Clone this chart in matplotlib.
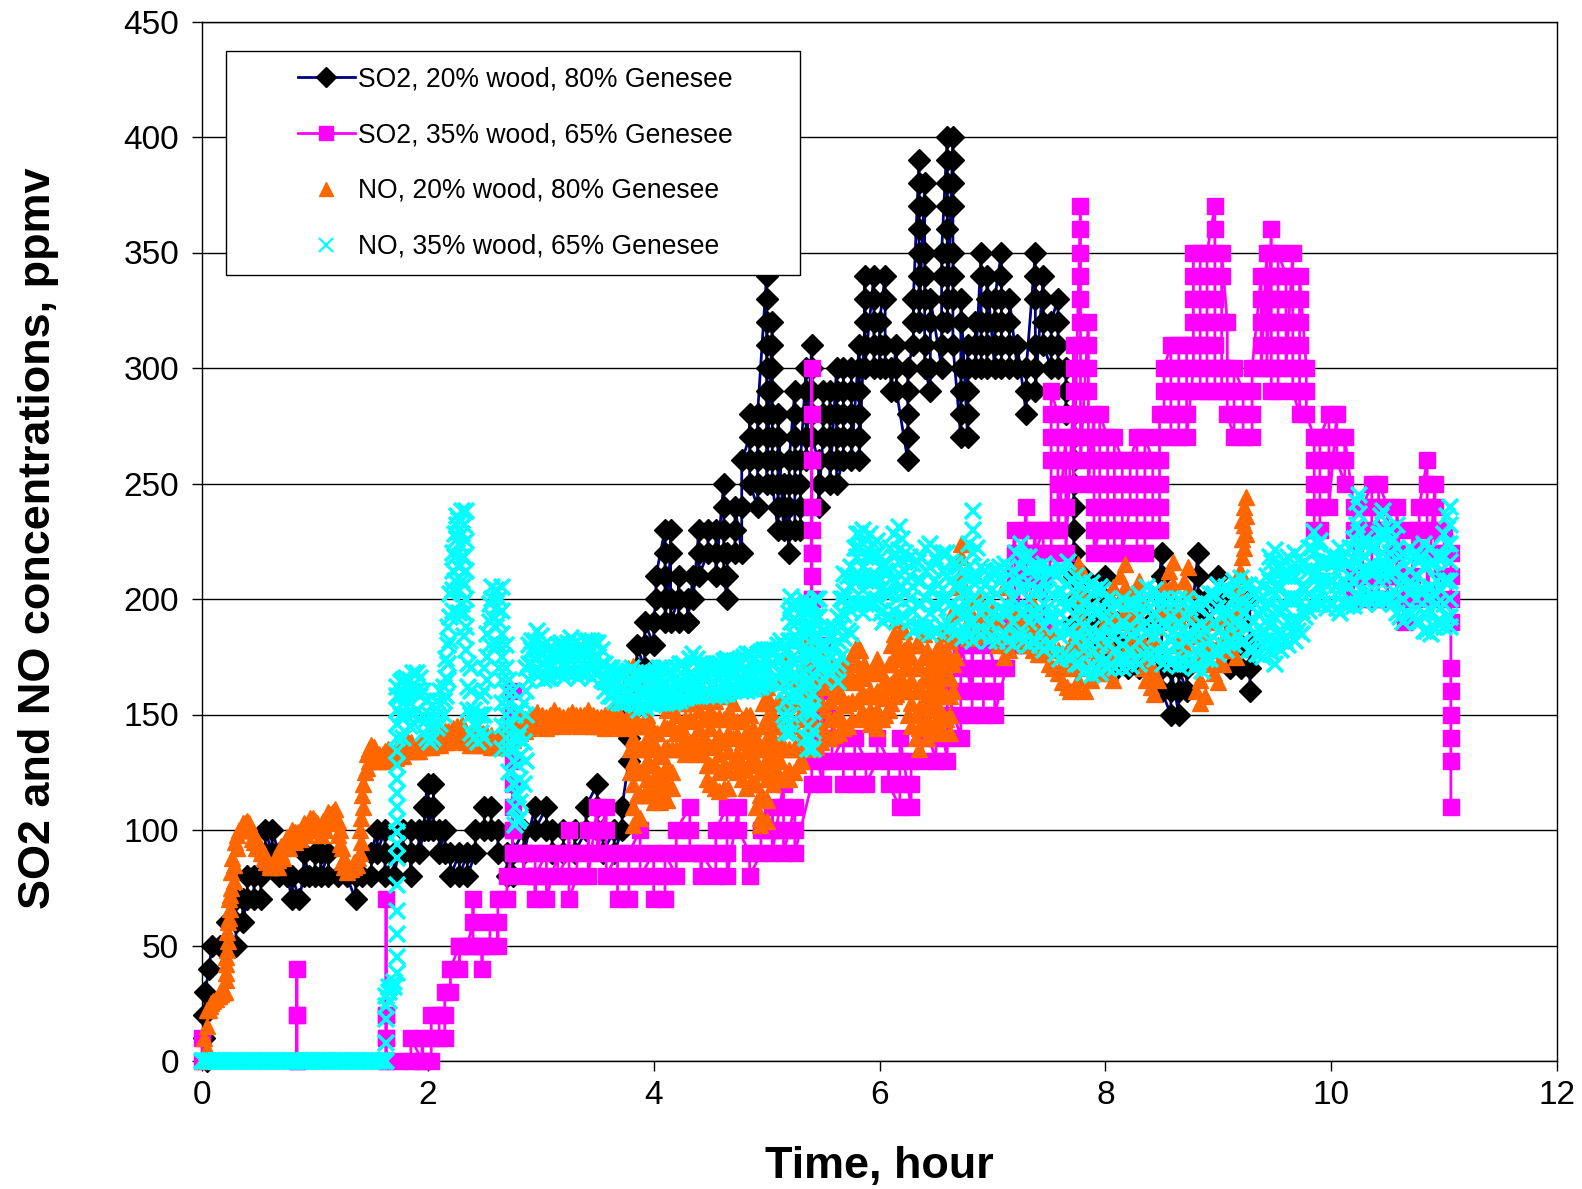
import matplotlib
matplotlib.use('Agg')
import matplotlib.pyplot as plt
from matplotlib.lines import Line2D
from matplotlib.patches import Rectangle

plt.rcParams['font.family'] = ['Liberation Sans', 'DejaVu Sans']

# each row: time in hours, readings logged around that time
so2_20 = [
    (0.04, [0]), (0.02, [10, 20]), (0.03, [30]), (0.06, [40]), (0.09, [50]), (0.16, [50]), (0.22, [50, 60]),
    (0.3, [50, 60, 70]), (0.36, [70, 60]), (0.4, [70, 80]), (0.46, [80, 70]), (0.52, [70, 80]), (0.56, [90, 100]),
    (0.62, [90, 100]), (0.68, [90, 80]), (0.75, [80]), (0.8, [70, 80]), (0.86, [70]), (0.9, [80, 90]), (0.95, [80]),
    (1.0, [80, 90]), (1.05, [90, 80]), (1.12, [90, 80]), (1.2, [80]), (1.28, [80]), (1.36, [70, 80]), (1.42, [80]),
    (1.5, [80, 90]), (1.55, [100, 90]), (1.62, [100, 90, 80]), (1.7, [90, 80]), (1.78, [100, 90]),
    (1.85, [90, 80, 100]), (1.92, [100, 90]), (1.97, [100, 110]), (2.0, [120, 110, 100]), (2.05, [110, 120, 100]),
    (2.1, [100, 90]), (2.15, [100, 90]), (2.2, [90, 80]), (2.28, [90, 80]), (2.35, [90, 80]), (2.42, [90, 100]),
    (2.5, [100, 110]), (2.56, [110, 100]), (2.62, [100, 90]), (2.7, [90, 80]), (2.75, [80, 90]), (2.85, [100, 90]),
    (2.95, [110, 100]), (3.05, [110, 100]), (3.1, [100, 90]), (3.2, [90, 100]), (3.3, [100, 90]), (3.4, [100, 110]),
    (3.5, [120, 110, 100]), (3.55, [100, 90]), (3.65, [100, 90]), (3.72, [100, 110]), (3.78, [130, 140, 150]),
    (3.85, [160, 170, 180]), (3.92, [170, 180, 190]), (4.0, [180, 190]), (4.02, [200, 210]),
    (4.1, [230, 220, 210, 200, 190]), (4.15, [220, 230, 200, 190]), (4.22, [200, 210, 190]), (4.3, [190, 200, 190]),
    (4.35, [210, 200]), (4.4, [230, 220, 210]), (4.48, [220, 230]), (4.55, [230, 220, 210]),
    (4.62, [250, 240, 230, 220, 210]), (4.65, [200, 210, 220]), (4.72, [220, 230, 240]), (4.78, [220, 240, 260]),
    (4.85, [270, 280, 260, 250]), (4.92, [240, 250, 260, 270, 280]),
    (5.0, [340, 330, 320, 310, 300, 290, 280, 270, 260, 250]), (5.05, [320, 310, 300, 290, 280, 270, 260, 250]),
    (5.1, [230, 240, 250, 260, 270, 280]), (5.15, [230, 240, 250]), (5.2, [220, 230, 240, 250, 260]),
    (5.25, [290, 280, 270, 260, 250, 230]), (5.3, [230, 240, 250, 260]), (5.35, [300, 290, 280, 270, 260]),
    (5.4, [310, 300, 290, 280, 270]), (5.46, [260, 250, 240]), (5.5, [270, 280, 290]),
    (5.56, [290, 280, 270, 260, 250]), (5.62, [300, 290, 280, 270, 260, 250]), (5.68, [260, 270, 280, 290, 300]),
    (5.75, [300, 290, 280, 270, 260]), (5.82, [310, 300, 290, 280, 270, 260]), (5.87, [320, 330, 340, 310, 300]),
    (5.95, [340, 330, 320, 310, 300]), (6.0, [300, 310, 320]), (6.05, [340, 330, 310, 300]), (6.1, [300, 290]),
    (6.15, [310, 300, 290]), (6.25, [260, 270, 280, 290, 300]), (6.3, [310, 320, 330]),
    (6.35, [390, 380, 370, 360, 350, 340, 330, 320]), (6.4, [380, 370, 350, 340, 330, 310, 300]),
    (6.45, [290, 300, 320, 330]), (6.55, [300, 310, 320, 340, 350]),
    (6.6, [400, 390, 380, 370, 360, 350, 340, 330, 320]), (6.65, [400, 390, 380, 370, 350, 340, 330, 310]),
    (6.72, [270, 280, 290, 300, 320, 330]), (6.78, [270, 280, 290, 300, 310]), (6.85, [310, 320, 300]),
    (6.9, [350, 340, 320, 310, 300]), (6.95, [300, 310, 320, 330, 340]), (7.02, [300, 310, 320, 330]),
    (7.08, [350, 340, 330, 320, 310, 300]), (7.15, [300, 310, 320, 330]), (7.22, [300, 310]), (7.3, [280, 290, 300]),
    (7.38, [350, 340, 330, 310, 300, 290]), (7.45, [340, 330, 320, 310]), (7.52, [300, 310, 320]),
    (7.58, [330, 320, 310, 300]), (7.65, [300, 290, 280]),
    (7.72, [280, 270, 260, 250, 240, 230, 220, 210, 200, 190]), (7.8, [210, 200, 190, 180]), (7.9, [190, 180]),
    (8.0, [200, 210, 180, 170]), (8.1, [170, 180, 190]), (8.2, [170, 180]), (8.3, [170, 180]),
    (8.4, [180, 190, 170]), (8.5, [220, 210, 170, 160]), (8.58, [150, 160, 170]), (8.65, [150, 160, 170]),
    (8.72, [160, 170]), (8.82, [220, 210, 200, 190]), (8.9, [200, 190]), (9.0, [200, 210]), (9.1, [190, 180, 170]),
    (9.2, [170, 180, 190]), (9.28, [200, 180, 170, 160]),
]

so2_35 = [
    (0.0, [10, 0]), (0.84, [0, 20, 40, 20, 0]), (1.63, [0, 10, 20, 70, 20, 10, 0]), (1.75, [0]), (1.85, [0, 10]),
    (1.95, [0, 10, 0]), (2.03, [0, 10, 20]), (2.1, [20, 10]), (2.15, [10, 20, 30]), (2.2, [30, 40]),
    (2.28, [50, 40, 50]), (2.35, [50]), (2.4, [60, 70, 50]), (2.48, [50, 40, 50]), (2.55, [50, 60]),
    (2.62, [60, 50, 70]), (2.7, [70, 80]), (2.75, [90, 100, 160, 150, 140, 130, 120, 110, 100, 90]),
    (2.85, [90, 80, 90]), (2.95, [90, 80, 70, 80]), (3.05, [90, 80, 70]), (3.15, [90, 80]), (3.25, [90, 100, 80, 70]),
    (3.32, [80, 90]), (3.42, [90, 100, 80]), (3.5, [110, 100, 90]), (3.58, [110, 100, 90, 80]), (3.68, [90, 80, 70]),
    (3.78, [70, 80, 90]), (3.88, [100, 90, 80]), (4.0, [90, 80, 70]), (4.1, [70, 80, 90]), (4.2, [80, 90, 100]),
    (4.32, [110, 100, 90]), (4.42, [90, 80, 90]), (4.55, [80, 90, 100]), (4.65, [110, 100, 90, 80]),
    (4.75, [110, 100]), (4.85, [90, 80]), (4.95, [90, 100]), (5.05, [100, 110, 100, 90]),
    (5.15, [120, 110, 100, 90]), (5.25, [110, 100, 90]),
    (5.4, [120, 130, 150, 170, 200, 210, 220, 230, 240, 260, 280, 300, 260, 240, 220, 200, 180, 160, 140]),
    (5.5, [120, 130, 140, 160, 180]), (5.58, [150, 140, 130]), (5.68, [140, 130, 120]), (5.78, [120, 130, 140]),
    (5.88, [130, 120]), (5.98, [130, 140]), (6.08, [130, 120]), (6.18, [110, 120, 130, 140]),
    (6.28, [110, 120, 130]), (6.38, [130, 140, 150]), (6.5, [130, 140, 160]), (6.6, [130, 140, 150, 160]),
    (6.72, [140, 150, 160, 170, 180]), (6.82, [160, 170, 180, 150]), (6.92, [150, 160, 170, 180, 190]),
    (7.02, [170, 160, 150]), (7.12, [170, 180, 190]), (7.2, [230, 220, 210, 190, 180]),
    (7.3, [240, 230, 220, 210, 190, 180]), (7.38, [230, 220]), (7.45, [230, 220, 210, 190]),
    (7.52, [220, 230, 260, 270, 280, 290]), (7.58, [280, 270, 260, 250, 240, 230]), (7.65, [270, 260, 250, 240, 220]),
    (7.72, [290, 300, 310, 280, 270, 260, 250]),
    (7.78, [370, 360, 350, 340, 330, 320, 310, 300, 290, 280, 270, 260]), (7.85, [320, 310, 300, 290, 270, 250]),
    (7.9, [280, 270, 260, 250, 240, 230, 220]), (7.95, [230, 240, 250, 260, 270, 280]),
    (8.02, [270, 260, 250, 240, 230, 220]), (8.08, [220, 230, 240, 250, 260, 270]),
    (8.15, [260, 250, 240, 230, 220]), (8.22, [240, 250, 260]), (8.28, [270, 260, 250, 240, 230, 220]),
    (8.35, [220, 230, 240, 250, 260, 270]), (8.42, [260, 250, 240, 230]), (8.48, [230, 240, 250, 260, 270, 280]),
    (8.52, [280, 290, 300]), (8.58, [310, 300, 290, 280, 270]), (8.65, [270, 280, 290, 300, 310]),
    (8.72, [310, 300, 290, 280, 270]), (8.78, [300, 310, 320, 330, 340, 350]),
    (8.84, [350, 340, 330, 320, 310, 300, 290]), (8.9, [290, 300, 310, 320, 330, 340, 350]),
    (8.97, [370, 360, 350, 340, 330, 320, 310, 300, 290]), (9.03, [290, 300, 320, 340, 350]),
    (9.08, [320, 300, 290, 280]), (9.14, [270, 280, 290, 300]), (9.22, [290, 280, 270]), (9.3, [270, 280, 290, 300]),
    (9.38, [340, 330, 320, 310, 300]), (9.43, [350, 340, 320, 300]),
    (9.47, [360, 350, 340, 330, 320, 310, 300, 290]), (9.53, [290, 300, 310, 320, 330, 340, 350]),
    (9.6, [340, 330, 320, 310, 300]), (9.66, [350, 340, 330, 320, 310, 300, 290]),
    (9.72, [280, 290, 300, 310, 320, 330, 340]), (9.78, [300, 290, 280]), (9.85, [270, 260, 250, 240, 230]),
    (9.9, [230, 240, 250, 260, 270]), (9.98, [280, 270, 260, 240]), (10.05, [280, 270, 260]),
    (10.12, [250, 260, 270]), (10.2, [240, 230, 210, 200]), (10.28, [200, 210, 230, 240]),
    (10.36, [250, 240, 230, 210, 200]), (10.42, [200, 210, 230, 240, 250]), (10.5, [240, 230, 210, 200]),
    (10.58, [200, 210, 220, 230, 240]), (10.65, [190, 200, 210]), (10.72, [200, 210, 230]), (10.78, [220, 230, 240]),
    (10.85, [260, 250, 240, 230, 200]), (10.92, [250, 240, 230, 220, 200]), (11.0, [210, 220, 230]),
    (11.06, [220, 210, 200, 190, 170, 160, 150, 140, 130, 110]),
]

no_20 = [
    (0.0, [0]), (0.02, [10]), (0.04, [15, 5, 22]), (0.07, [24]), (0.1, [26]), (0.15, [28]), (0.2, [30, 30]),
    (0.21, [38, 45]), (0.23, [52, 60]), (0.25, [66, 72]), (0.28, [78, 85]), (0.31, [92, 98]), (0.35, [101]),
    (0.38, [102, 103]), (0.42, [103, 100]), (0.46, [97, 95]), (0.5, [95, 92]), (0.55, [90, 88]), (0.6, [85, 84]),
    (0.65, [86, 88]), (0.7, [90, 93]), (0.75, [95, 97]), (0.8, [99, 100]), (0.85, [98, 99]), (0.9, [101, 103]),
    (0.96, [104, 105]), (1.02, [103, 100]), (1.07, [102, 104]), (1.12, [106, 108]), (1.18, [109, 106]),
    (1.22, [100, 94]), (1.26, [88, 84]), (1.3, [83, 83]), (1.35, [84, 86]), (1.4, [90, 100]), (1.43, [110, 120]),
    (1.46, [127, 133]), (1.5, [137, 134]), (1.55, [131, 130]), (1.6, [131, 133]), (1.65, [132, 135]),
    (1.7, [133, 131]), (1.75, [134, 137]), (1.82, [135, 138]), (1.9, [136, 134]), (1.95, [136, 139]), (2.0, [141, 137]),
    (2.07, [137, 142]), (2.15, [138, 143]), (2.22, [139, 144]), (2.3, [146, 141]), (2.37, [137, 142]), (2.45, [138, 143]),
    (2.52, [137, 141]), (2.6, [136, 140]), (2.68, [138, 143]), (2.75, [139, 146]), (2.82, [142, 148]), (2.9, [144, 149]),
    (2.97, [146, 151]), (3.05, [144, 149]), (3.12, [146, 152]), (3.2, [145, 149]), (3.28, [147, 151]), (3.35, [145, 150]),
    (3.42, [146, 152]), (3.5, [145, 149]), (3.57, [144, 150]), (3.65, [146, 152]), (3.72, [144, 148]),
    (3.77, [150, 158, 165, 170]), (3.82, [171, 160, 150, 140, 130, 120, 110, 102]), (3.88, [105, 115, 125, 135, 145]),
    (3.94, [150, 140, 130, 122, 115]), (4.0, [112, 120, 128, 136, 142]), (4.06, [132, 124, 118, 112]),
    (4.12, [113, 120, 128, 136, 144, 152, 158]), (4.2, [158, 150, 142, 135]), (4.28, [133, 140, 148, 155, 160]),
    (4.36, [155, 147, 140, 133]), (4.44, [133, 140, 148, 156]), (4.5, [160, 152, 144, 136, 128, 120]),
    (4.58, [117, 125, 133, 141, 149, 158]), (4.66, [160, 150, 142, 134, 126, 118]), (4.74, [125, 133, 141, 147]),
    (4.82, [150, 142, 134, 126, 118]), (4.88, [120, 128, 136, 144]), (4.94, [135, 125, 115, 105, 102]),
    (5.0, [104, 113, 122, 131, 140, 149, 158, 162]), (5.06, [150, 140, 130, 120]), (5.12, [122, 130, 138, 146, 155, 165]),
    (5.2, [175, 165, 155, 145, 135, 126, 122]), (5.28, [128, 138, 148, 158, 168]), (5.35, [180, 170, 160, 150, 140, 135]),
    (5.4, [135, 145, 155, 165, 175, 185]), (5.48, [175, 165, 155, 145, 138]), (5.56, [140, 148, 156, 164, 172]),
    (5.64, [170, 160, 150, 142]), (5.72, [145, 155, 165, 172]), (5.8, [180, 172, 164, 156]), (5.86, [150, 158, 166, 172]),
    (5.92, [160, 152, 146]), (5.98, [144, 152, 160, 168, 174]), (6.05, [165, 157, 150]), (6.1, [155, 163, 172, 180]),
    (6.15, [191, 182, 174, 166, 159]), (6.22, [162, 170, 178, 186]), (6.28, [175, 165, 155, 145]),
    (6.35, [135, 144, 153, 162, 171, 180, 189]), (6.42, [178, 168, 158, 148, 140]), (6.5, [145, 155, 165, 175]),
    (6.56, [142, 150, 158, 166, 175, 185]), (6.62, [190, 182, 174, 166, 158, 150, 142]), (6.68, [175, 185, 195, 205]),
    (6.72, [224, 218, 211]), (6.78, [200, 190, 183]), (6.88, [185, 192, 200]), (7.0, [186, 195]), (7.1, [175, 184, 195, 205]),
    (7.2, [192, 183]), (7.36, [178, 188, 198]), (7.45, [185, 176]), (7.54, [170, 178, 186]), (7.62, [172, 164]),
    (7.69, [160, 170, 180]), (7.76, [165, 175, 185, 195, 205, 215]), (7.82, [200, 185, 170, 160]), (7.92, [175, 185]),
    (8.0, [170, 180, 190]), (8.07, [165, 175, 190, 205]), (8.17, [215, 205, 195]), (8.24, [185, 175]),
    (8.3, [190, 200, 208]), (8.36, [175, 165]), (8.43, [159, 168, 178, 188]), (8.52, [195, 205]), (8.6, [216, 206, 196]),
    (8.68, [185, 175]), (8.73, [214, 204, 194]), (8.84, [155, 165, 175, 185]), (8.92, [180, 190]), (9.0, [164, 172, 180]),
    (9.08, [178, 186, 195]), (9.16, [175, 185, 195, 205]), (9.21, [210, 218, 226, 234]), (9.25, [244, 236, 228]),
]

# readings in between the rows above, the band is nearly solid in the original
no_20_more = [
    (0.06, [22]), (0.08, [25]), (0.12, [27]), (0.14, [28]), (0.17, [29]), (0.19, [30]), (0.215, [35, 42]), (0.22, [48, 56]),
    (0.24, [62, 70]), (0.26, [75, 82]), (0.27, [88]), (0.29, [95]), (0.33, [100]), (0.36, [100, 103]), (0.4, [104, 100]),
    (0.44, [100, 96]), (0.48, [96, 92]), (0.52, [92, 90]), (0.57, [88, 86]), (0.62, [85, 84]), (0.67, [87, 84]),
    (0.72, [92, 88]), (0.77, [96, 92]), (0.82, [99, 95]), (0.87, [99, 96]), (0.92, [102, 98]), (0.98, [105, 100]),
    (1.0, [104, 100]), (1.05, [101, 98]), (1.09, [104, 100]), (1.14, [107, 103]), (1.16, [108, 104]), (1.2, [104, 98]),
    (1.24, [92, 86]), (1.28, [84, 82]), (1.32, [83]), (1.37, [85]), (1.38, [88]), (1.41, [95, 105]), (1.42, [115]),
    (1.44, [125]), (1.48, [130, 135]), (1.52, [136, 132]), (1.57, [130, 133]), (1.62, [130, 134]), (1.67, [131, 134]),
    (1.72, [131, 135]), (1.78, [132, 136]), (1.85, [134, 138]), (1.92, [134, 137]), (1.98, [136, 140]), (2.03, [136, 141]),
    (2.11, [137, 141]), (2.18, [138, 143]), (2.26, [140, 145]), (2.33, [138, 143]), (2.41, [137, 142]), (2.49, [137, 142]),
    (2.56, [136, 141]), (2.64, [137, 142]), (2.71, [138, 144]), (2.79, [141, 147]), (2.86, [143, 148]), (2.93, [145, 150]),
    (3.01, [145, 150]), (3.08, [145, 150]), (3.16, [146, 150]), (3.24, [146, 150]), (3.31, [146, 150]), (3.38, [146, 150]),
    (3.46, [145, 150]), (3.53, [145, 149]), (3.61, [145, 150]), (3.69, [145, 150]), (3.79, [145, 135, 125]),
    (3.85, [165, 155, 145, 135, 125, 115, 105]), (3.91, [145, 135, 125, 115]), (3.97, [118, 128, 138, 146]),
    (4.03, [115, 125, 135, 142]), (4.09, [115, 125, 135, 145, 155]), (4.16, [155, 145, 135, 125, 118]),
    (4.24, [135, 145, 155, 160]), (4.32, [158, 148, 138, 134]), (4.4, [134, 144, 152]), (4.47, [158, 148, 138, 128, 122]),
    (4.54, [118, 128, 138, 148, 156]), (4.62, [158, 148, 138, 128, 118]), (4.7, [130, 140, 148, 155]),
    (4.78, [148, 138, 128, 122]), (4.85, [120, 130, 140, 150]), (4.91, [140, 130, 120, 110]), (4.97, [104, 114, 125, 135, 145, 155]),
    (5.03, [155, 145, 135, 125]), (5.09, [125, 135, 145, 155]), (5.16, [165, 155, 145, 135, 124]), (5.24, [125, 135, 145, 155, 165]),
    (5.31, [170, 160, 150, 140, 130]), (5.38, [138, 150, 162, 175]), (5.44, [180, 168, 156, 144, 136]), (5.52, [142, 152, 162, 170]),
    (5.6, [168, 158, 148, 141]), (5.68, [144, 154, 164, 172]), (5.76, [176, 166, 156, 148]), (5.83, [178, 168, 158, 150]),
    (5.89, [148, 158, 168]), (5.95, [170, 158, 148]), (6.02, [168, 158, 148]), (6.08, [152, 162, 172]), (6.13, [185, 175, 165, 158]),
    (6.19, [186, 176, 166, 160]), (6.25, [180, 170, 160, 150]), (6.32, [140, 150, 160, 170, 180]), (6.39, [185, 175, 165, 155, 145]),
    (6.46, [142, 152, 162, 172]), (6.53, [150, 160, 170, 180]), (6.59, [188, 178, 168, 158, 148]), (6.65, [160, 172, 185, 195]),
    (6.75, [205, 195, 186]), (6.83, [184, 192]), (6.94, [188, 195]), (7.05, [180, 190]), (7.15, [178, 188, 198]),
    (7.28, [180, 190]), (7.4, [176, 186]), (7.5, [172, 182]), (7.58, [168, 178]), (7.66, [162, 172]), (7.73, [162, 172, 182]),
    (7.79, [178, 190, 202, 212]), (7.87, [165, 178]), (7.96, [168, 180]), (8.04, [168, 180, 195]), (8.13, [190, 200, 210]),
    (8.2, [180, 192]), (8.27, [180, 195, 204]), (8.33, [170, 182]), (8.4, [162, 172, 182]), (8.47, [165, 180, 195]),
    (8.56, [190, 204, 212]), (8.64, [180, 192]), (8.7, [180, 195, 208]), (8.8, [160, 172, 184]), (8.88, [158, 172, 185]),
    (8.96, [168, 178]), (9.04, [172, 182, 192]), (9.12, [178, 190]), (9.19, [190, 200, 212]), (9.23, [222, 232, 240]),
]

# baseline zeros before the cyan trace starts rising
no_35_zero_t = [
    0.0, 0.02, 0.04, 0.06, 0.08, 0.1, 0.12, 0.14, 0.16, 0.18, 0.2, 0.22, 0.24, 0.26, 0.28, 0.3, 0.32, 0.34, 0.36, 0.38,
    0.4, 0.42, 0.44, 0.46, 0.48, 0.5, 0.52, 0.54, 0.56, 0.58, 0.6, 0.62, 0.64, 0.66, 0.68, 0.7, 0.72, 0.74, 0.76, 0.78,
    0.8, 0.82, 0.84, 0.86, 0.88, 0.9, 0.92, 0.94, 0.96, 0.98, 1.0, 1.02, 1.04, 1.06, 1.08, 1.1, 1.12, 1.14, 1.16, 1.18,
    1.2, 1.22, 1.24, 1.26, 1.28, 1.3, 1.32, 1.34, 1.36, 1.38, 1.4, 1.42, 1.44, 1.46, 1.48, 1.5, 1.52, 1.54, 1.56, 1.58,
    1.6, 1.62,
]

no_35 = [
    (1.63, [0, 8, 18, 24, 28]), (1.66, [30, 26, 32]), (1.7, [32, 34]),
    (1.73, [38, 45, 55, 65, 76, 88, 94, 99, 104, 110, 116, 122, 128, 134, 140, 146, 152, 158, 162]),
    (1.78, [165, 160, 155, 148, 140]), (1.84, [145, 155, 165]), (1.9, [168, 160, 152]), (1.96, [160, 150, 142]),
    (2.02, [138, 144, 150]), (2.08, [144, 150, 156]), (2.14, [150, 156, 162]), (2.18, [165, 172, 180, 188]),
    (2.22, [195, 204, 212, 220]), (2.26, [226, 232, 236]), (2.3, [238, 228, 218, 208, 198]), (2.34, [238, 225, 212, 200, 188, 178]),
    (2.38, [170, 160, 150, 142]), (2.44, [138, 145, 150]), (2.5, [140, 150, 160, 170]), (2.55, [180, 190, 198]),
    (2.6, [204, 196, 188, 180]), (2.66, [205, 195, 185, 175, 165, 155, 145, 135]), (2.72, [125, 135, 145, 155, 165]),
    (2.77, [150, 135, 120, 110, 102]), (2.82, [105, 112, 122, 132, 142, 152]), (2.87, [130, 150, 160, 170]),
    (2.92, [172, 178, 182]), (2.97, [186, 178, 170]), (3.03, [165, 172, 180]), (3.09, [176, 170, 166]),
    (3.15, [168, 175, 180]), (3.21, [180, 172, 166]), (3.27, [170, 178, 183]), (3.33, [177, 170, 166]),
    (3.39, [168, 176, 182]), (3.45, [182, 174, 166]), (3.51, [168, 175, 181]), (3.57, [172, 164, 160]),
    (3.63, [158, 165, 170]), (3.69, [168, 160, 155]), (3.75, [155, 162, 168]), (3.81, [170, 162, 155]),
    (3.87, [152, 160, 167]), (3.93, [168, 160, 153]), (3.99, [154, 162, 168]), (4.05, [170, 162, 155]),
    (4.11, [155, 163, 170]), (4.17, [168, 160, 155]), (4.23, [156, 163, 172]), (4.29, [170, 162, 157]),
    (4.35, [158, 165, 176]), (4.41, [172, 164, 158]), (4.47, [160, 167, 172]), (4.53, [170, 163, 158]),
    (4.59, [158, 166, 172]), (4.65, [174, 166, 159]), (4.71, [160, 167, 173]), (4.77, [172, 165, 160]),
    (4.83, [160, 168, 176]), (4.89, [174, 167, 161]), (4.95, [162, 170, 177]), (5.01, [178, 170, 163]),
    (5.07, [164, 172, 178]), (5.13, [182, 174, 168]),
    (5.17, [170, 178, 172, 164, 156, 148, 142]), (5.22, [142, 150, 158, 166, 174, 182, 190, 197, 201]),
    (5.27, [198, 190, 182, 174, 166, 158]), (5.33, [160, 168, 176, 184, 192, 200]),
    (5.37, [195, 185, 175, 165, 155, 145, 135]), (5.41, [135, 143, 151, 159, 167, 175, 183, 191, 198]),
    (5.46, [200, 192, 184, 176, 170]), (5.52, [165, 172, 180, 186]), (5.58, [183, 175, 168]), (5.63, [164, 172, 182, 192]),
    (5.69, [200, 211, 203, 193, 183]), (5.75, [185, 195, 205, 214]), (5.8, [222, 228, 218, 208, 198]),
    (5.85, [194, 204, 214, 224, 230]), (5.92, [228, 218, 208, 198]), (5.98, [200, 210, 220, 225]), (6.03, [215, 205, 195, 190]),
    (6.09, [192, 202, 212, 222]), (6.17, [231, 221, 211, 201, 191]), (6.23, [192, 202, 212, 220]), (6.3, [215, 205, 195, 186]),
    (6.37, [188, 198, 208, 218]), (6.45, [224, 214, 204, 194, 185]), (6.52, [186, 196, 206, 216]), (6.6, [220, 210, 200, 190]),
    (6.67, [185, 195, 205, 215]), (6.74, [212, 202, 192, 183]), (6.79, [184, 194, 204, 214, 224]), (6.83, [238, 230, 220, 210, 200, 190, 182]),
    (6.9, [184, 194, 204, 214]), (6.97, [210, 200, 190, 182]), (7.04, [182, 192, 202, 212]), (7.11, [215, 205, 195, 185]),
    (7.18, [180, 190, 200, 212]), (7.25, [224, 214, 204, 194, 184]), (7.32, [180, 190, 200, 212, 218]),
    (7.39, [214, 204, 194, 182]), (7.46, [178, 188, 198, 208, 215]), (7.53, [212, 202, 192, 180]), (7.6, [174, 184, 194, 204, 214]),
    (7.67, [216, 206, 196, 186, 175]), (7.74, [172, 182, 192, 202, 210]), (7.81, [208, 198, 188, 178, 168]),
    (7.88, [167, 177, 187, 197, 207]), (7.95, [205, 195, 185, 175, 168]), (8.02, [170, 180, 190, 200]), (8.09, [198, 188, 178, 170]),
    (8.16, [170, 180, 190, 200]), (8.23, [198, 188, 178, 171]), (8.3, [172, 182, 192, 202]), (8.37, [205, 195, 185, 175]),
    (8.44, [174, 184, 194, 204]), (8.51, [200, 190, 180, 172]), (8.58, [172, 182, 192, 200]), (8.65, [200, 190, 180, 171]),
    (8.72, [172, 182, 192, 200]), (8.79, [198, 188, 178, 170]), (8.86, [169, 179, 189, 199]), (8.93, [202, 192, 182, 174]),
    (9.0, [176, 186, 196, 206]), (9.07, [205, 195, 185, 178]), (9.14, [180, 190, 200, 208]), (9.2, [209, 199, 189, 181]),
    (9.27, [178, 188, 198, 206]), (9.34, [204, 194, 184, 176]), (9.4, [175, 185, 195, 205]), (9.46, [218, 208, 198, 188, 178]),
    (9.5, [172, 182, 192, 202, 212, 221]), (9.56, [215, 205, 195, 185, 178]), (9.62, [180, 190, 200, 210, 218]),
    (9.68, [220, 210, 200, 190, 182]), (9.74, [185, 195, 205, 215]), (9.8, [222, 212, 202, 195]),
    (9.85, [200, 210, 220, 229]), (9.9, [225, 215, 205, 198]), (9.96, [196, 206, 216]), (10.02, [218, 208, 198]),
    (10.08, [194, 204, 214, 222]), (10.14, [215, 205, 197]), (10.2, [197, 207, 217, 226]), (10.25, [245, 237, 229, 221, 211, 201]),
    (10.3, [198, 208, 218, 226]), (10.36, [222, 212, 202]), (10.42, [198, 208, 218, 228]), (10.46, [238, 230, 220, 210, 200]),
    (10.52, [200, 210, 220, 230]), (10.58, [232, 222, 212, 202, 194]), (10.64, [190, 200, 210, 220]),
    (10.7, [222, 212, 202, 193]), (10.76, [190, 200, 210, 220]), (10.82, [224, 214, 204, 194, 186]),
    (10.88, [185, 195, 205, 215, 222]), (10.94, [218, 208, 198, 190]), (11.0, [188, 198, 208, 218, 228]),
    (11.05, [240, 232, 224, 216, 208, 200, 192, 188]),
]

# readings in between the rows above
no_35_more = [
    (1.76, [150, 158, 164]), (1.81, [150, 158, 166]), (1.87, [150, 160, 168]), (1.93, [148, 158, 166]), (1.99, [140, 148, 156]),
    (2.05, [140, 148, 154]), (2.11, [146, 154, 160]), (2.16, [158, 166, 174]), (2.2, [182, 192, 202]), (2.24, [208, 218, 228]),
    (2.28, [234, 224, 214, 204, 194]), (2.32, [232, 218, 206, 194, 184]), (2.36, [172, 162, 152]), (2.41, [140, 146, 152]),
    (2.47, [142, 150, 158]), (2.52, [165, 175, 185]), (2.57, [192, 200, 205]), (2.63, [200, 190, 180, 170]),
    (2.69, [180, 170, 160, 150, 140]), (2.75, [130, 120, 140, 160]), (2.8, [104, 115, 128, 140]), (2.85, [120, 138, 155]),
    (2.9, [165, 172, 180]), (2.95, [182, 174, 168]), (3.0, [168, 176, 184]), (3.06, [166, 174, 178]), (3.12, [168, 175, 178]),
    (3.18, [168, 175, 181]), (3.24, [168, 175, 181]), (3.3, [168, 175, 181]), (3.36, [168, 175, 180]), (3.42, [168, 175, 182]),
    (3.48, [168, 175, 181]), (3.54, [165, 172, 178]), (3.6, [158, 165, 170]), (3.66, [156, 163, 168]), (3.72, [155, 162, 167]),
    (3.78, [156, 163, 169]), (3.84, [154, 162, 168]), (3.9, [154, 161, 167]), (3.96, [155, 162, 168]), (4.02, [155, 162, 169]),
    (4.08, [155, 162, 170]), (4.14, [156, 162, 169]), (4.2, [156, 163, 170]), (4.26, [157, 164, 172]), (4.32, [158, 165, 174]),
    (4.38, [158, 165, 174]), (4.44, [159, 166, 172]), (4.5, [159, 166, 171]), (4.56, [159, 166, 172]), (4.62, [159, 167, 173]),
    (4.68, [160, 167, 173]), (4.74, [161, 168, 173]), (4.8, [161, 168, 175]), (4.86, [161, 168, 176]), (4.92, [162, 170, 176]),
    (4.98, [163, 170, 178]), (5.04, [164, 172, 178]), (5.1, [166, 174, 180]), (5.15, [150, 160, 170, 180]),
    (5.2, [146, 158, 170, 182, 194]), (5.25, [160, 172, 184, 196]), (5.3, [158, 170, 182, 194]), (5.35, [140, 152, 164, 176, 188, 198]),
    (5.39, [140, 152, 164, 176, 188, 198]), (5.44, [172, 182, 192, 200]), (5.49, [170, 178, 186]), (5.55, [168, 176, 184]),
    (5.6, [170, 180, 188]), (5.66, [175, 188, 200]), (5.72, [186, 198, 210]), (5.78, [198, 210, 222]), (5.83, [198, 210, 222, 228]),
    (5.88, [198, 208, 218, 226]), (5.95, [198, 208, 218, 224]), (6.01, [194, 204, 214]), (6.06, [192, 202, 212]),
    (6.13, [195, 207, 218, 228]), (6.2, [193, 205, 217, 226]), (6.27, [190, 200, 210, 218]), (6.34, [188, 198, 208, 216]),
    (6.41, [188, 200, 212, 222]), (6.49, [186, 198, 208, 218]), (6.56, [188, 200, 212, 220]), (6.63, [188, 198, 208, 216]),
    (6.7, [186, 196, 206, 214]), (6.77, [186, 198, 210]), (6.86, [186, 198, 210, 222]), (6.93, [186, 196, 206, 212]),
    (7.0, [184, 194, 204, 212]), (7.07, [184, 196, 208, 214]), (7.14, [182, 194, 206, 214]), (7.21, [184, 196, 208, 220]),
    (7.28, [182, 194, 206, 218]), (7.35, [182, 194, 206, 214]), (7.42, [180, 192, 204, 214]), (7.49, [180, 192, 204, 212]),
    (7.56, [176, 188, 200, 210]), (7.63, [176, 188, 200, 212]), (7.7, [174, 186, 198, 208]), (7.77, [172, 184, 196, 206]),
    (7.84, [170, 182, 194, 204]), (7.91, [170, 182, 194, 204]), (7.98, [172, 184, 196, 204]), (8.05, [172, 184, 196]),
    (8.12, [174, 186, 198]), (8.19, [174, 186, 198]), (8.26, [174, 186, 198]), (8.33, [176, 188, 200]), (8.4, [176, 188, 200]),
    (8.47, [176, 188, 200]), (8.54, [176, 188, 198]), (8.61, [174, 186, 198]), (8.68, [174, 186, 198]), (8.75, [172, 184, 196]),
    (8.82, [172, 184, 196]), (8.89, [174, 186, 198]), (8.96, [178, 190, 202]), (9.03, [180, 192, 204]), (9.1, [182, 194, 204]),
    (9.17, [184, 196, 206]), (9.24, [182, 194, 206]), (9.31, [178, 190, 202]), (9.37, [176, 188, 200]), (9.43, [182, 196, 210]),
    (9.48, [176, 190, 204, 216]), (9.53, [182, 196, 210]), (9.59, [182, 196, 210, 216]), (9.65, [186, 200, 214]),
    (9.71, [186, 200, 214]), (9.77, [192, 204, 216]), (9.83, [198, 210, 222]), (9.88, [200, 212, 224]), (9.93, [198, 208, 216]),
    (9.99, [198, 208, 216]), (10.05, [196, 206, 218]), (10.11, [198, 208, 218]), (10.17, [198, 210, 222]), (10.23, [202, 216, 232, 242]),
    (10.28, [200, 212, 224]), (10.33, [200, 212, 224]), (10.39, [200, 212, 222]), (10.44, [200, 214, 228, 236]),
    (10.49, [200, 214, 228]), (10.55, [198, 212, 226]), (10.61, [192, 206, 218]), (10.67, [194, 206, 218]), (10.73, [192, 206, 218]),
    (10.79, [190, 204, 218]), (10.85, [186, 200, 214]), (10.91, [188, 202, 216]), (10.97, [190, 204, 218]), (11.03, [192, 208, 224, 236]),
]


def flatten(rows):
    times = []
    values = []
    for t, readings in rows:
        for v in readings:
            times.append(t)
            values.append(v)
    return times, values


x_ticks = [0, 2, 4, 6, 8, 10, 12]
y_ticks = [0, 50, 100, 150, 200, 250, 300, 350, 400, 450]
series_names = ['SO2, 20% wood, 80% Genesee', 'SO2, 35% wood, 65% Genesee',
                'NO, 20% wood, 80% Genesee', 'NO, 35% wood, 65% Genesee']

fig = plt.figure(figsize=(15.82, 11.89), dpi=100)
ax = fig.add_axes([202 / 1582, (1189 - 1061) / 1189, 1355 / 1582, 1039.5 / 1189])

t, v = flatten(so2_20)
ax.plot(t, v, color='#000080', lw=2, marker='D', ms=11.5, mfc='black', mec='black', clip_on=False, zorder=3)
t, v = flatten(so2_35)
ax.plot(t, v, color='#FF00FF', lw=2, marker='s', ms=11, mfc='#FF00FF', mec='#FF00FF', clip_on=False, zorder=4)
t, v = flatten(no_20 + no_20_more)
ax.plot(t, v, ls='none', marker='^', ms=11.5, mfc='#FF6600', mec='#FF6600', clip_on=False, zorder=5)
t, v = flatten(no_35 + no_35_more)
ax.plot(no_35_zero_t, [0] * len(no_35_zero_t), ls='none', marker='x', ms=11, mew=2.6, color='#00FFFF', clip_on=False, zorder=6)
ax.plot(t, v, ls='none', marker='x', ms=11, mew=2.6, color='#00FFFF', clip_on=False, zorder=6)

ax.set_xlim(0, 12)
ax.set_ylim(0, 450)
ax.set_xticks(x_ticks)
ax.set_yticks(y_ticks)
ax.tick_params(axis='both', labelsize=24, length=7.5, width=1, pad=6)
ax.tick_params(axis='y', pad=9)
ax.yaxis.grid(True, color='black', lw=1)
ax.set_axisbelow(True)
for side in ax.spines.values():
    side.set_linewidth(1)

ax.set_xlabel('Time, hour', fontsize=32.4, fontweight='bold', labelpad=25.5)
ax.set_ylabel('SO2 and NO concentrations, ppmv', fontsize=32.4, fontweight='bold', labelpad=46, y=0.503)

# legend box is much wider than its contents, so the frame is drawn by hand
fig.add_artist(Rectangle((226 / 1582, 1 - 275 / 1189), 574 / 1582, 224 / 1189, transform=fig.transFigure,
                         facecolor='white', edgecolor='black', lw=1, zorder=9))
handles = [
    Line2D([], [], color='#000080', lw=2, marker='D', ms=10, mfc='black', mec='black'),
    Line2D([], [], color='#FF00FF', lw=2, marker='s', ms=10, mfc='#FF00FF', mec='#FF00FF'),
    Line2D([], [], ls='none', marker='^', ms=10.5, mfc='#FF6600', mec='#FF6600'),
    Line2D([], [], ls='none', marker='x', ms=10, mew=1.6, color='#00FFFF'),
]
leg = fig.legend(handles, series_names, fontsize=19.1, loc='center left', bbox_to_anchor=(298 / 1582, 1 - 163 / 1189),
                 bbox_transform=fig.transFigure, frameon=False, borderaxespad=0, borderpad=0, labelspacing=1.13,
                 handlelength=2.14, handletextpad=0.12)
leg.set_zorder(10)

plt.savefig('out.png', dpi=100)
